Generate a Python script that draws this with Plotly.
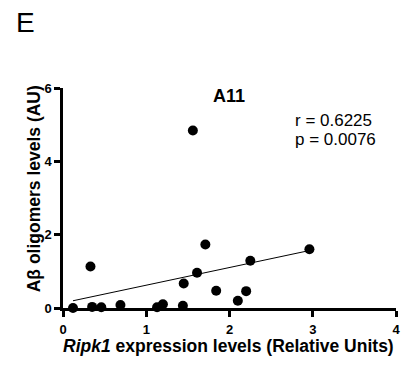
import numpy as np
import plotly.graph_objects as go

# Data
ripk1 = [0.12, 0.33, 0.35, 0.46, 0.69, 1.13, 1.20, 1.44, 1.45, 1.56, 1.61, 1.71, 1.84, 2.10, 2.20, 2.25, 2.96]
abeta = [0.00, 1.13, 0.03, 0.02, 0.08, 0.02, 0.10, 0.06, 0.67, 4.84, 0.96, 1.73, 0.47, 0.20, 0.46, 1.29, 1.60]
x_ticks = [0, 1, 2, 3, 4]
y_ticks = [0, 2, 4, 6]
stats_text = ["r = 0.6225", "p = 0.0076"]

slope, intercept = np.polyfit(ripk1, abeta, 1)
fit_x = [min(ripk1), max(ripk1)]
fit_y = [slope * v + intercept for v in fit_x]

FONT = "Arial, Liberation Sans, sans-serif"
K = "black"

fig = go.Figure()
fig.add_trace(go.Scatter(x=fit_x, y=fit_y, mode="lines",
                         line=dict(color=K, width=1), hoverinfo="skip"))
fig.add_trace(go.Scatter(x=ripk1, y=abeta, mode="markers",
                         marker=dict(color=K, size=10), cliponaxis=False))

axis_common = dict(showgrid=False, zeroline=False, showline=True, linecolor=K, linewidth=2.5,
                   ticks="outside", ticklen=6, tickwidth=2.5, tickcolor=K,
                   tickfont=dict(size=13, family=FONT, color=K))

# page has an 8px body margin, so the figure is sized/offset to compensate
fig.update_layout(
    width=404, height=357,
    margin=dict(l=55, r=16.2, t=80.3, b=57.3, pad=0),
    paper_bgcolor="white", plot_bgcolor="white",
    showlegend=False,
    font=dict(family=FONT, color=K),
    xaxis=dict(range=[0, 4], tickvals=x_ticks, ticktext=[f"<b>{v}</b>" for v in x_ticks],
               ticklabelstandoff=2, **axis_common),
    yaxis=dict(range=[0, 6], tickvals=y_ticks, ticktext=[f"<b>{v}</b>" for v in y_ticks],
               **axis_common),
)

fig.add_annotation(text="<b><i>Ripk1</i> expression levels (Relative Units)</b>",
                   xref="paper", yref="paper", x=0.498, y=-0.172,
                   xanchor="center", yanchor="middle", showarrow=False,
                   font=dict(size=17.5, family=FONT, color=K))
fig.add_annotation(text="<b>Aβ oligomers levels (AU)</b>", textangle=-90,
                   xref="paper", yref="paper", x=-0.0885, y=0.542,
                   xanchor="center", yanchor="middle", showarrow=False,
                   font=dict(size=17.5, family=FONT, color=K))
fig.add_annotation(text="<b>A11</b>", xref="paper", yref="paper", x=0.497, y=0.965,
                   xanchor="center", yanchor="middle", showarrow=False,
                   font=dict(size=18, family=FONT, color=K))
for txt, yy in zip(stats_text, [0.853, 0.767]):
    fig.add_annotation(text=txt, xref="paper", yref="paper", borderpad=0,
                       x=0.695, y=yy, xanchor="left", yanchor="middle", align="left",
                       showarrow=False, font=dict(size=17, family=FONT, color=K))
fig.add_annotation(text="E", xref="paper", yref="paper", x=-0.1485, y=1.299,
                   xanchor="left", yanchor="middle", showarrow=False,
                   font=dict(size=28, family=FONT, color=K))

fig.write_html("out.html")
